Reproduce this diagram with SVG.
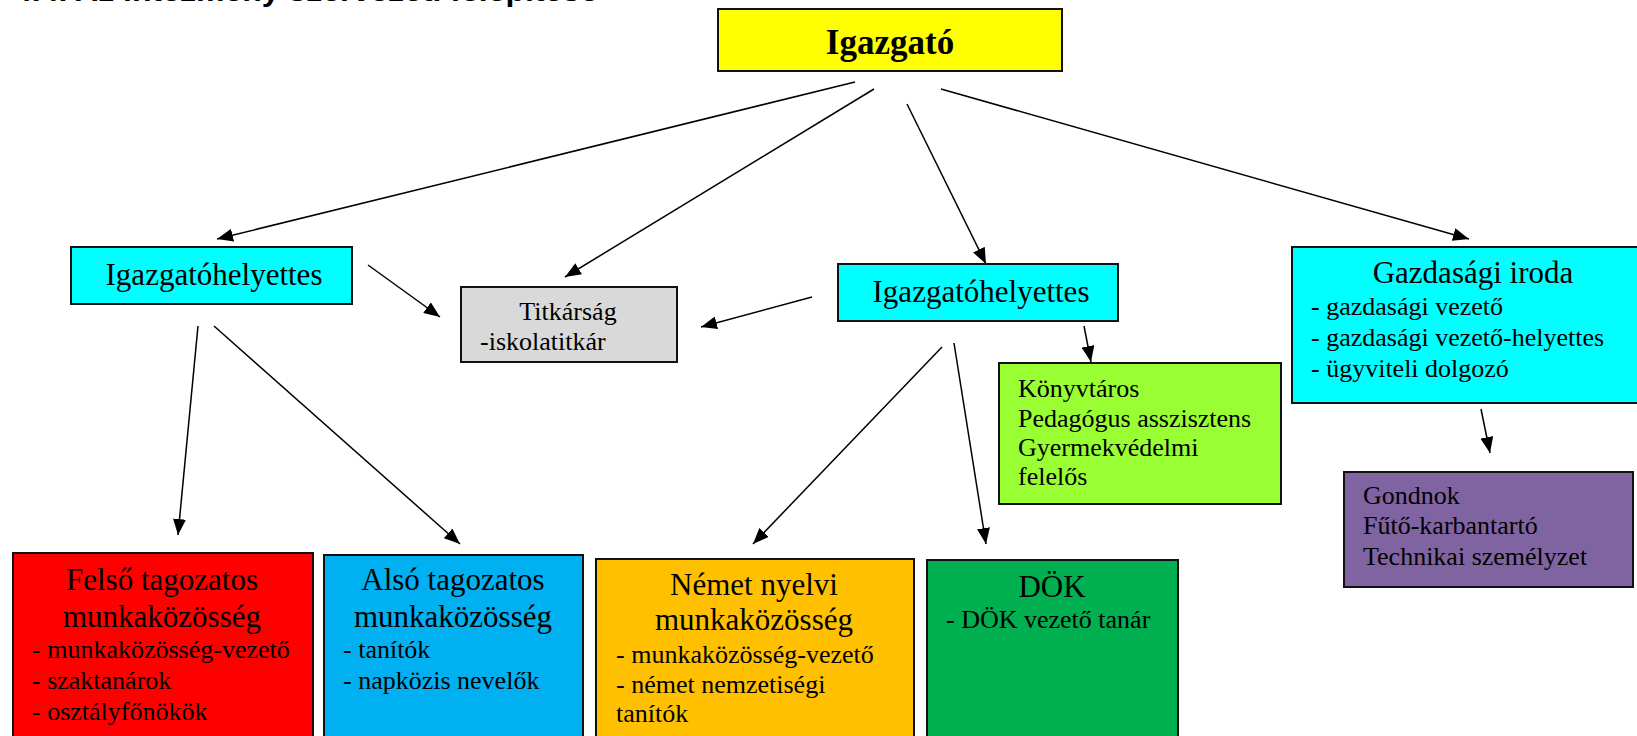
<svg xmlns="http://www.w3.org/2000/svg" width="1637" height="736" viewBox="0 0 1637 736">
<defs>
<marker id="ah" markerUnits="userSpaceOnUse" markerWidth="17" markerHeight="13" refX="16" refY="6.5" orient="auto">
<path d="M0,0 L16,6.5 L0,13 z" fill="#000"/>
</marker>
<style>
.box{stroke:#111;stroke-width:2}
.h{font-family:"Liberation Serif","Times New Roman",serif;font-size:31px;fill:#000;text-anchor:middle}
.t{font-family:"Liberation Serif","Times New Roman",serif;font-size:26px;fill:#000}
.c{stroke:#000;stroke-width:1.5;fill:none;marker-end:url(#ah)}
</style>
</defs>
<rect width="1637" height="736" fill="#fff"/>
<text x="14" y="1" font-family="'Liberation Sans',Arial,sans-serif" font-weight="bold" font-size="30" textLength="584" lengthAdjust="spacingAndGlyphs">4.4. Az intézmény szervezeti felépítése</text>

<g id="connectors">
<path class="c" d="M855,82 L217,239"/>
<path class="c" d="M874,89 L565,277"/>
<path class="c" d="M907,104 L986,264"/>
<path class="c" d="M941,89 L1469,239"/>
<path class="c" d="M368,265 L440,317"/>
<path class="c" d="M812,297 L701,327"/>
<path class="c" d="M1084,326 L1091,362"/>
<path class="c" d="M942,347 L753,544"/>
<path class="c" d="M954,343 L986,544"/>
<path class="c" d="M198,326 L178,535"/>
<path class="c" d="M214,326 L460,544"/>
<path class="c" d="M1481,409 L1490,453"/>
</g>

<g id="igazgato">
<rect class="box" x="718" y="9" width="344" height="62" fill="#FFFF00"/>
<text x="890" y="54" font-family="'Liberation Serif','Times New Roman',serif" font-weight="bold" font-size="35" text-anchor="middle">Igazgató</text>
</g>

<g id="ih-left">
<rect class="box" x="71" y="247" width="281" height="57" fill="#00FFFF"/>
<text class="h" x="214" y="285">Igazgatóhelyettes</text>
</g>

<g id="titkarsag">
<rect class="box" x="461" y="287" width="216" height="75" fill="#D9D9D9"/>
<text class="t" x="568" y="320" text-anchor="middle" font-size="25.5">Titkárság</text>
<text class="t" x="480" y="350" font-size="25.5">-iskolatitkár</text>
</g>

<g id="ih-mid">
<rect class="box" x="838" y="264" width="280" height="57" fill="#00FFFF"/>
<text class="h" x="981" y="302">Igazgatóhelyettes</text>
</g>

<g id="konyvtaros">
<rect class="box" x="999" y="363" width="282" height="141" fill="#99FF33"/>
<text class="t" x="1018" y="397">Könyvtáros</text>
<text class="t" x="1018" y="427">Pedagógus asszisztens</text>
<text class="t" x="1018" y="456">Gyermekvédelmi</text>
<text class="t" x="1018" y="485">felelős</text>
</g>

<g id="gazdasagi">
<rect class="box" x="1292" y="247" width="355" height="156" fill="#00FFFF"/>
<text class="h" x="1473" y="283">Gazdasági iroda</text>
<text class="t" x="1311" y="315">- gazdasági vezető</text>
<text class="t" x="1311" y="346">- gazdasági vezető-helyettes</text>
<text class="t" x="1311" y="377">- ügyviteli dolgozó</text>
</g>

<g id="gondnok">
<rect class="box" x="1344" y="472" width="289" height="115" fill="#8064A2"/>
<text class="t" x="1363" y="504">Gondnok</text>
<text class="t" x="1363" y="534">Fűtő-karbantartó</text>
<text class="t" x="1363" y="565">Technikai személyzet</text>
</g>

<g id="felso">
<rect class="box" x="13" y="553" width="300" height="195" fill="#FF0000"/>
<text class="h" x="162" y="590">Felső tagozatos</text>
<text class="h" x="162" y="627">munkaközösség</text>
<text class="t" x="32" y="658">- munkaközösség-vezető</text>
<text class="t" x="32" y="689">- szaktanárok</text>
<text class="t" x="32" y="720">- osztályfőnökök</text>
</g>

<g id="also">
<rect class="box" x="324" y="555" width="259" height="193" fill="#00B0F0"/>
<text class="h" x="453" y="590">Alsó tagozatos</text>
<text class="h" x="453" y="627">munkaközösség</text>
<text class="t" x="343" y="658">- tanítók</text>
<text class="t" x="343" y="689">- napközis nevelők</text>
</g>

<g id="nemet">
<rect class="box" x="596" y="559" width="318" height="189" fill="#FFC000"/>
<text class="h" x="754" y="595">Német nyelvi</text>
<text class="h" x="754" y="630">munkaközösség</text>
<text class="t" x="616" y="663">- munkaközösség-vezető</text>
<text class="t" x="616" y="693">- német nemzetiségi</text>
<text class="t" x="616" y="722">tanítók</text>
</g>

<g id="dok">
<rect class="box" x="927" y="560" width="251" height="188" fill="#00B050"/>
<text class="h" x="1052" y="597">DÖK</text>
<text class="t" x="946" y="628">- DÖK vezető tanár</text>
</g>
</svg>
